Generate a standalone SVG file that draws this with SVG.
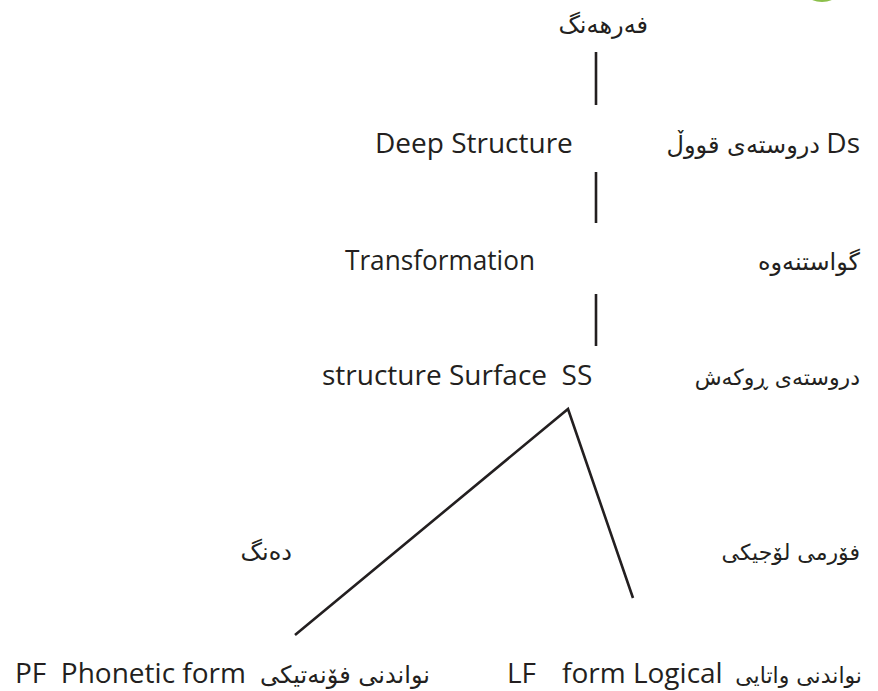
<svg xmlns="http://www.w3.org/2000/svg" width="878" height="691" viewBox="0 0 878 691">
<style>
.en{font-family:"Open Sans","Noto Sans","Liberation Sans",sans-serif;font-size:28px;fill:#231f20}
.ar{font-family:"DejaVu Sans","Noto Sans",sans-serif;font-size:24px;fill:#231f20}
.sm{font-size:22px}
.ln{stroke:#231f20;stroke-width:2.6;fill:none;stroke-linecap:butt}
</style>
<rect width="878" height="691" fill="#ffffff"/>
<ellipse cx="822" cy="-4" rx="13" ry="6" fill="#8bbf4a"/>
<g id="connectors">
<line class="ln" x1="596" y1="52" x2="596" y2="105"/>
<line class="ln" x1="596" y1="172" x2="596" y2="223"/>
<line class="ln" x1="596" y1="294" x2="596" y2="346"/>
<polyline class="ln" points="295,635 568,409 633,598"/>
</g>
<g id="lexicon"><text class="ar" x="648" y="33" text-anchor="end">فەرهەنگ</text></g>
<g id="deep-structure">
<text class="en" x="375" y="153">Deep Structure</text>
<text class="ar" x="820" y="153" text-anchor="end">دروستەی قووڵ</text>
<text class="en" x="860" y="153" text-anchor="end">Ds</text>
</g>
<g id="transformation">
<text class="en" x="345" y="270" textLength="190" lengthAdjust="spacingAndGlyphs">Transformation</text>
<text class="ar" x="860" y="270" text-anchor="end">گواستنەوه</text>
</g>
<g id="surface-structure">
<text class="en" x="322" y="385">structure Surface&#160; SS</text>
<text class="ar sm" x="860" y="385" text-anchor="end">دروستەی ڕوکەش</text>
</g>
<g id="sound"><text class="ar" x="292" y="560" text-anchor="end">دەنگ</text></g>
<g id="logical-form-label"><text class="ar sm" x="860" y="560" text-anchor="end">فۆرمی لۆجیکی</text></g>
<g id="phonetic-form">
<text class="en" x="15" y="683">PF&#160; Phonetic form</text>
<text class="ar" x="430" y="683" text-anchor="end">نواندنی فۆنەتیکی</text>
</g>
<g id="logical-form">
<text class="en" x="507" y="683">LF</text>
<text class="en" x="562" y="683">form Logical</text>
<text class="ar sm" x="862" y="683" text-anchor="end">نواندنی واتایی</text>
</g>
</svg>
